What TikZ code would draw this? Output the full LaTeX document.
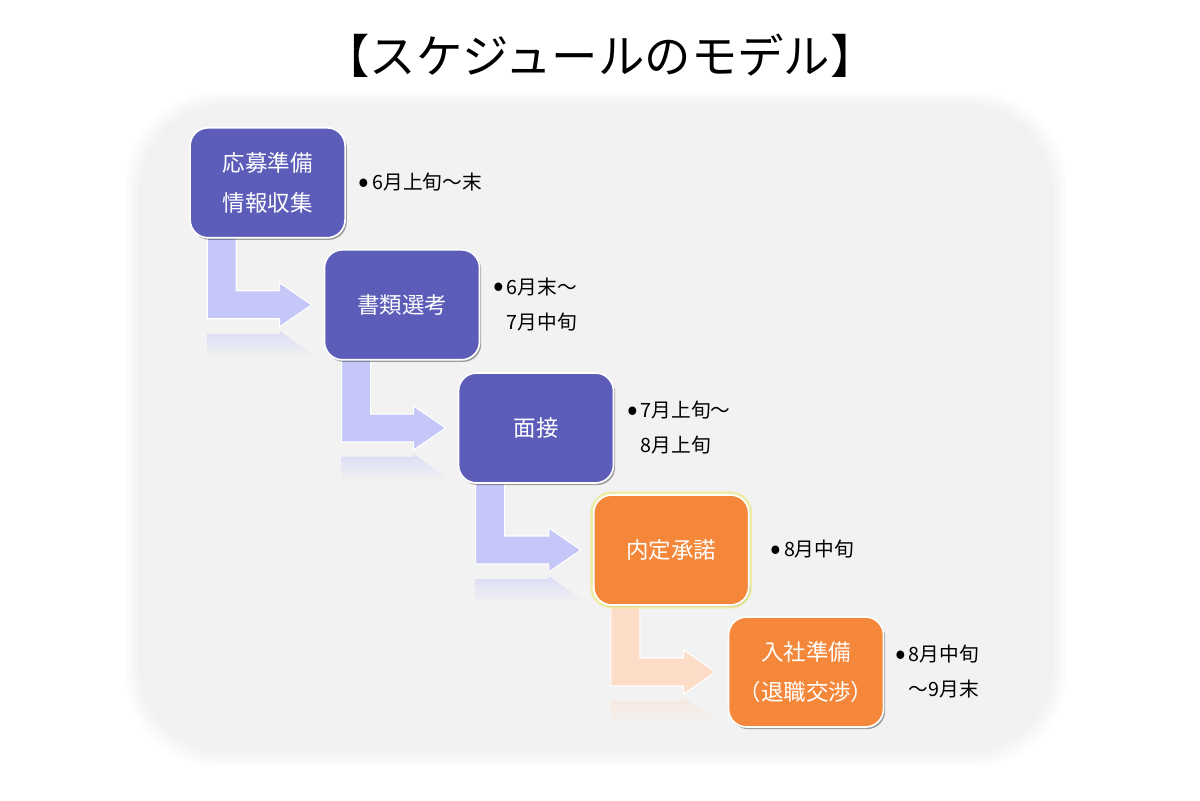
\documentclass[tikz,border=0pt]{standalone}
\usepackage{fontspec}
\setmainfont{Noto Sans CJK JP}
\usetikzlibrary{positioning, calc, shadows, backgrounds}

\definecolor{stepblue}{HTML}{5B5DB9}
\definecolor{steporange}{HTML}{F5873A}
\definecolor{flowblue}{HTML}{C4C7F8}
\definecolor{floworange}{HTML}{FDDDC8}
\definecolor{panelgray}{HTML}{F2F2F2}
\definecolor{glowyellow}{HTML}{EEEB9A}

\newcommand{\notebullet}{\raisebox{-0.25ex}{\scalebox{1.6}{\textbullet}}\hspace{2pt}}

% bent arrow from under one stage to the left side of the next one
\newcommand{\steparrow}[3]{%
  \fill[#3, draw=white, line width=0.8pt] let \p1=(#1.south west), \p2=(#2.west) in
    (\x1+0.45cm,\y1+0.1cm) -- (\x1+1.175cm,\y1+0.1cm) -- (\x1+1.175cm,\y2+0.35cm)
    -- (\x2-1.1cm,\y2+0.35cm) -- (\x2-1.1cm,\y2+0.55cm) -- (\x2-0.3cm,\y2)
    -- (\x2-1.1cm,\y2-0.55cm) -- (\x2-1.1cm,\y2-0.35cm) -- (\x1+0.45cm,\y2-0.35cm) -- cycle;
  % faded reflection
  \shade[top color=#3!50!panelgray, bottom color=panelgray] let \p1=(#1.south west), \p2=(#2.west) in
    (\x1+0.45cm,\y2-0.725cm) -- (\x2-1.1cm,\y2-0.725cm) -- (\x2-1.1cm,\y2-0.65cm)
    -- (\x2-0.3cm,\y2-1.225cm) -- (\x2-0.3cm,\y2-1.325cm) -- (\x1+0.45cm,\y2-1.325cm) -- cycle;
}

\tikzset{
  stage/.style={rectangle, rounded corners=0.45cm, draw=white, line width=1.2pt,
    minimum width=3.875cm, minimum height=2.75cm, text=white, align=center,
    font=\fontsize{16}{28.5}\selectfont,
    drop shadow={shadow xshift=1.2pt, shadow yshift=-1.5pt, opacity=0.35, fill=black}},
  glow/.style={preaction={draw=glowyellow, line width=5pt, opacity=0.8}},
  note/.style={align=left, font=\fontsize{14}{25}\selectfont},
}

\begin{document}
\begin{tikzpicture}
  \useasboundingbox (0,0) rectangle (30,20);

  \node[font=\fontsize{33}{40}\selectfont] (title) at (15,18.6) {【スケジュールのモデル】};

  % stages
  \node[stage, fill=stepblue] (prep) at (6.69,15.43) {応募準備\\情報収集};
  \node[stage, fill=stepblue] (docs) at (10.05,12.38) {書類選考};
  \node[stage, fill=stepblue] (interview) at (13.40,9.30) {面接};
  \node[stage, glow, fill=steporange] (offer) at (16.78,6.25) {内定承諾};
  \node[stage, fill=steporange] (join) at (20.15,3.20) {入社準備\\（退職交渉）};

  % periods
  \node[note, right=0.2cm of prep] (prepnote) {\notebullet 6月上旬〜末};
  \node[note, right=0.2cm of docs] (docsnote) {\notebullet 6月末〜\\\phantom{\notebullet}7月中旬};
  \node[note, right=0.2cm of interview] (interviewnote) {\notebullet 7月上旬〜\\\phantom{\notebullet}8月上旬};
  \node[note, right=0.4cm of offer] (offernote) {\notebullet 8月中旬};
  \node[note, right=0.15cm of join] (joinnote) {\notebullet 8月中旬\\\phantom{\notebullet}〜9月末};

  \begin{scope}[on background layer]
    \foreach \d/\o in {0.3/0.25, 0.2/0.35, 0.1/0.5}
      \fill[panelgray, opacity=\o, rounded corners=2.3cm] ({3.45-\d},{1.15-\d}) rectangle ({26.35+\d},{17.4+\d});
    \fill[panelgray, rounded corners=2.2cm] (3.45,1.15) rectangle (26.35,17.4);
    \steparrow{prep}{docs}{flowblue}
    \steparrow{docs}{interview}{flowblue}
    \steparrow{interview}{offer}{flowblue}
    \steparrow{offer}{join}{floworange}
  \end{scope}
\end{tikzpicture}
\end{document}
